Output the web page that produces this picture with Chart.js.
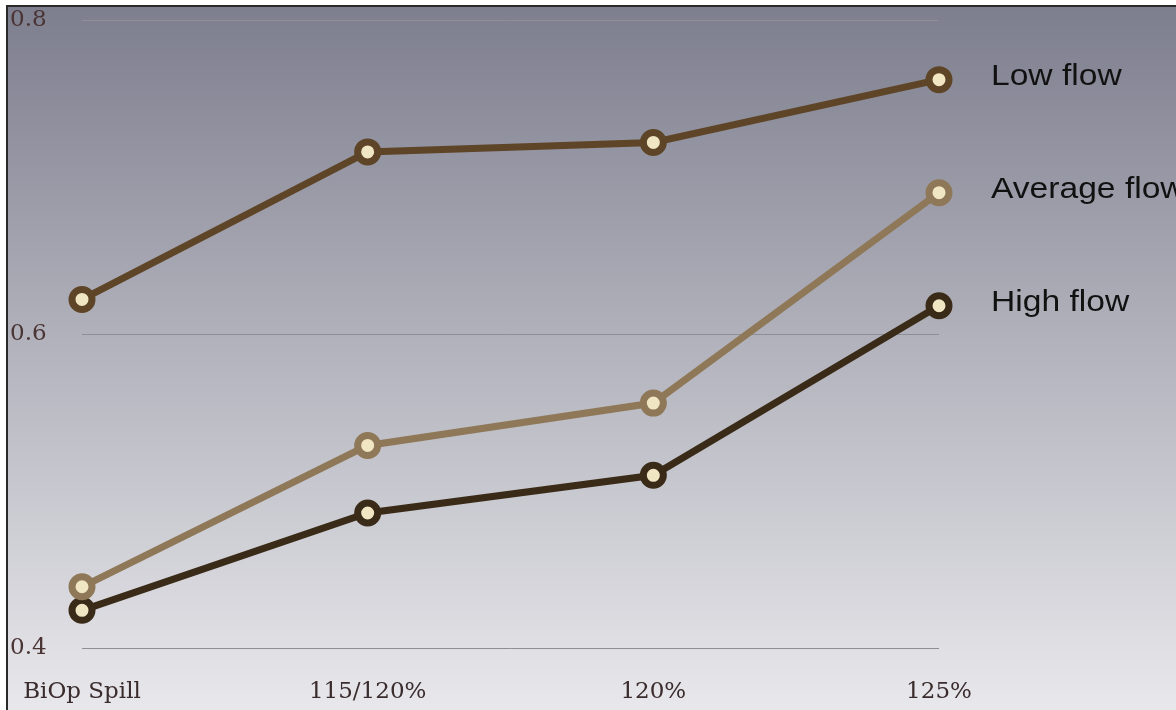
<!DOCTYPE html>
<html>
<head>
<meta charset="utf-8">
<script src="https://cdn.jsdelivr.net/npm/chart.js@4"></script>
<style>
html,body{margin:0;padding:0;background:#fff;}
#wrap{width:1176px;height:710px;position:relative;}
</style>
</head>
<body>
<div id="wrap"><canvas id="c" width="1176" height="710"></canvas></div>
<script>
const categories = ["BiOp Spill", "115/120%", "120%", "125%"];
const seriesNames = ["Low flow", "Average flow", "High flow"];
const lowFlow = [0.622, 0.716, 0.722, 0.762];
const averageFlow = [0.439, 0.529, 0.556, 0.690];
const highFlow = [0.424, 0.486, 0.510, 0.618];
const yTicks = [0.4, 0.6, 0.8];
const seriesColors = ["#5f4527", "#8e7857", "#3a2b18"];

const bgPlugin = {
  id: 'bg',
  beforeDraw(chart) {
    const ctx = chart.ctx;
    const w = chart.width, h = chart.height;
    ctx.save();
    const g = ctx.createLinearGradient(0, 0, 0, h);
    g.addColorStop(0, '#7c7d8d');
    g.addColorStop(0.5, '#b4b4be');
    g.addColorStop(1, '#e8e8ec');
    ctx.fillStyle = '#ffffff';
    ctx.fillRect(0, 0, w, h);
    ctx.fillStyle = g;
    ctx.fillRect(7, 6, w - 7, h - 6);
    ctx.strokeStyle = '#2a2a2a';
    ctx.lineWidth = 2;
    ctx.beginPath();
    ctx.moveTo(7, h);
    ctx.lineTo(7, 6);
    ctx.lineTo(w, 6);
    ctx.stroke();
    ctx.restore();
  }
};

const endLabelPlugin = {
  id: 'endLabels',
  afterDatasetsDraw(chart) {
    const ctx = chart.ctx;
    chart.data.datasets.forEach((ds, i) => {
      const meta = chart.getDatasetMeta(i);
      const pt = meta.data[meta.data.length - 1];
      ctx.save();
      ctx.font = '30px "Liberation Sans", Arial, sans-serif';
      ctx.fillStyle = '#111111';
      ctx.textAlign = 'left';
      ctx.textBaseline = 'middle';
      ctx.translate(pt.x + 52, pt.y - 3);
      ctx.scale(1.12, 1);
      ctx.fillText(ds.label, 0, 0);
      ctx.restore();
    });
  }
};

function ds(label, data, color) {
  return {
    label, data,
    borderColor: color,
    backgroundColor: color,
    borderWidth: 7,
    pointRadius: 10,
    pointBorderWidth: 7,
    pointBorderColor: color,
    pointBackgroundColor: '#f1e6c4',
    tension: 0
  };
}

new Chart(document.getElementById('c'), {
  type: 'line',
  data: {
    labels: categories,
    datasets: [
      ds(seriesNames[0], lowFlow, seriesColors[0]),
      ds(seriesNames[1], averageFlow, seriesColors[1]),
      ds(seriesNames[2], highFlow, seriesColors[2])
    ]
  },
  options: {
    responsive: false,
    animation: false,
    layout: { padding: { left: 10, right: 237, top: 20, bottom: 0 } },
    plugins: { legend: { display: false }, tooltip: { enabled: false } },
    scales: {
      x: {
        offset: false,
        grid: { display: false },
        border: { display: false },
        ticks: {
          padding: 22,
          color: '#3a2c2c',
          font: { family: '"DejaVu Serif", serif', size: 23 }
        },
        afterFit(s) { s.height = 62; }
      },
      y: {
        min: 0.4, max: 0.8,
        afterBuildTicks(s) { s.ticks = yTicks.map(v => ({ value: v })); },
        grid: { color: '#8e8e96', lineWidth: 1, drawTicks: false },
        border: { display: false },
        ticks: {
          crossAlign: 'far',
          padding: 4,
          color: '#4a3434',
          font: { family: '"DejaVu Serif", serif', size: 23 },
          callback: v => v.toFixed(1)
        },
        afterFit(s) { s.width = 72; }
      }
    }
  },
  plugins: [bgPlugin, endLabelPlugin]
});
</script>
</body>
</html>
